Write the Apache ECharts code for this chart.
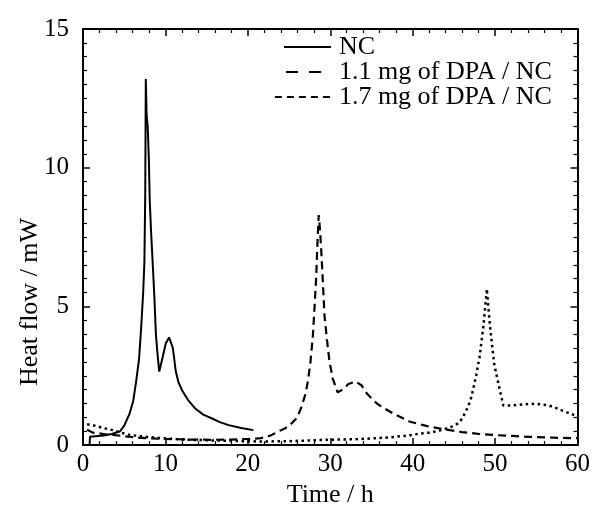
<!DOCTYPE html>
<html>
<head>
<meta charset="utf-8">
<script src="https://cdn.jsdelivr.net/npm/echarts@6/dist/echarts.min.js"></script>
<style>
html,body{margin:0;padding:0;background:#fff;}
#chart{width:593px;height:513px;}
</style>
</head>
<body>
<div id="chart"></div>
<script>
// ---- data ----
const seriesNames = ['NC', '1.1 mg of DPA / NC', '1.7 mg of DPA / NC'];
const xTitle = 'Time / h';
const yTitle = 'Heat flow / mW';

const ncTime = [0.8, 0.85, 1.5, 2.5, 3.5, 4.5, 5.0, 5.65, 6.1, 6.45, 6.8, 7.05, 7.3, 7.45, 7.55, 7.62, 7.72, 7.85, 8.0, 8.1, 8.25, 8.45, 8.65, 8.85, 9.05, 9.25, 9.65, 10.05, 10.45, 10.9, 11.05, 11.25, 11.6, 12.05, 12.8, 13.65, 14.6, 15.66, 16.6, 17.67, 19.2, 20.67];
const ncHeat = [0.02, 0.3, 0.32, 0.35, 0.4, 0.5, 0.7, 1.13, 1.6, 2.3, 3.1, 4.2, 5.5, 6.6, 9.0, 13.2, 11.9, 11.5, 10.2, 8.8, 7.75, 6.6, 5.4, 3.97, 3.26, 2.65, 3.15, 3.67, 3.88, 3.5, 3.15, 2.67, 2.25, 1.96, 1.6, 1.31, 1.1, 0.96, 0.83, 0.72, 0.62, 0.54];

const dpa11Time = [0.5, 1.2, 2.5, 3.6, 5.5, 7.6, 10, 13, 15.6, 18, 20, 21.6, 22.8, 23.7, 24.6, 25.3, 26, 26.5, 27.0, 27.3, 27.6, 27.9, 28.1, 28.3, 28.45, 28.6, 28.75, 28.9, 29.1, 29.3, 29.6, 29.9, 30.3, 30.9, 31.5, 32.2, 33.1, 33.8, 34.5, 35.7, 36.7, 37.7, 39.7, 41.3, 42.1, 44.5, 46, 48.1, 50, 52.1, 54, 56.1, 58, 59.3, 60];
const dpa11Heat = [0.55, 0.45, 0.4, 0.37, 0.3, 0.25, 0.22, 0.2, 0.19, 0.2, 0.22, 0.25, 0.35, 0.49, 0.62, 0.78, 1.0, 1.37, 1.85, 2.32, 3.0, 3.97, 5.0, 6.1, 7.3, 8.29, 7.8, 7.05, 5.9, 4.68, 3.8, 3.03, 2.4, 1.9, 2.0, 2.2, 2.29, 2.15, 1.84, 1.49, 1.3, 1.13, 0.84, 0.72, 0.66, 0.54, 0.47, 0.4, 0.36, 0.33, 0.3, 0.28, 0.26, 0.25, 0.25];

const dpa17Time = [0.5, 1.2, 2.4, 3.6, 4.6, 5.6, 7.6, 9.6, 12, 15.6, 18, 21.6, 25, 29.3, 33, 35.7, 37.3, 39.5, 41.3, 42.1, 43.2, 44.1, 44.5, 45.5, 46.0, 46.5, 47.0, 47.3, 47.7, 48.1, 48.6, 49.0, 49.3, 49.6, 49.9, 50.5, 51.0, 51.5, 52.1, 53.5, 54.9, 56.5, 57.3, 58.1, 59.0, 59.7, 60];
const dpa17Heat = [0.75, 0.72, 0.62, 0.54, 0.45, 0.37, 0.3, 0.25, 0.2, 0.17, 0.15, 0.13, 0.14, 0.19, 0.21, 0.25, 0.28, 0.35, 0.43, 0.45, 0.52, 0.6, 0.63, 0.78, 0.95, 1.25, 1.6, 1.96, 2.5, 3.14, 4.33, 5.63, 4.56, 3.7, 2.91, 2.08, 1.43, 1.43, 1.43, 1.47, 1.49, 1.43, 1.35, 1.25, 1.15, 1.07, 1.05];

const xMin = 0, xMax = 60, xStep = 10;
const yMin = 0, yMax = 15, yStep = 5;

// ---- build ----
const zip = (a, b) => a.map((v, i) => [v, b[i]]);
const FONT = '"Liberation Serif", "Times New Roman", serif';

function axisCommon(showLabel, isX) {
  return {
    type: 'value',
    min: isX ? xMin : yMin,
    max: isX ? xMax : yMax,
    interval: isX ? xStep : yStep,
    axisLine: { show: true, onZero: false, lineStyle: { color: '#000', width: 2 } },
    axisTick: { show: true, inside: true, length: 7, lineStyle: { color: '#000', width: 1.5 } },
    minorTick: { show: true, splitNumber: isX ? 5 : 10, length: 4, lineStyle: { color: '#000', width: 1.2 } },
    splitLine: { show: false },
    minorSplitLine: { show: false },
    axisLabel: { show: showLabel, color: '#000', fontFamily: FONT, fontSize: 25, margin: isX ? 7 : 14 }
  };
}

const chart = echarts.init(document.getElementById('chart'), null, { renderer: 'canvas' });

const legendText = { color: '#000', fontFamily: FONT, fontSize: 26, padding: [0, 0, 0, 3] };
const hideSym = { opacity: 0 };

const option = {
  animation: false,
  backgroundColor: '#fff',
  grid: { left: 83, right: 11, top: 29, bottom: 61, containLabel: false },
  xAxis: [
    Object.assign(axisCommon(true, true), {
      position: 'bottom', name: xTitle, nameLocation: 'middle', nameGap: 29,
      nameTextStyle: { color: '#000', fontFamily: FONT, fontSize: 26 }
    }),
    Object.assign(axisCommon(false, true), { position: 'top' })
  ],
  yAxis: [
    Object.assign(axisCommon(true, false), { position: 'left' }),
    Object.assign(axisCommon(false, false), { position: 'right' })
  ],
  legend: [
    { left: 283, top: 34, padding: 0, itemWidth: 47, itemHeight: 14, selectedMode: false,
      data: [{ name: seriesNames[0], itemStyle: hideSym, lineStyle: { type: 'solid', width: 2, color: '#000' } }],
      textStyle: legendText },
    { left: 283, top: 59, padding: 0, itemWidth: 47, itemHeight: 14, selectedMode: false,
      data: [{ name: seriesNames[1], itemStyle: hideSym, lineStyle: { type: [12, 11], dashOffset: 21, width: 2, color: '#000' } }],
      textStyle: legendText },
    { left: 271, top: 84, padding: 0, itemWidth: 59, itemHeight: 14, selectedMode: false,
      data: [{ name: seriesNames[2], itemStyle: hideSym, lineStyle: { type: [7, 5], width: 1.8, color: '#000' } }],
      textStyle: legendText }
  ],
  graphic: [
    { type: 'text', x: 30, y: 302, rotation: Math.PI / 2,
      style: { text: yTitle, fill: '#000', font: '26px ' + FONT, align: 'center', verticalAlign: 'middle' } }
  ],
  series: [
    { name: seriesNames[0], type: 'line', data: zip(ncTime, ncHeat), showSymbol: false, symbol: 'none',
      lineStyle: { color: '#000', width: 2, type: 'solid' }, itemStyle: { color: '#000' } },
    { name: seriesNames[1], type: 'line', data: zip(dpa11Time, dpa11Heat), showSymbol: false, symbol: 'none',
      lineStyle: { color: '#000', width: 2.2, type: [8, 5] }, itemStyle: { color: '#000' } },
    { name: seriesNames[2], type: 'line', data: zip(dpa17Time, dpa17Heat), showSymbol: false, symbol: 'none',
      lineStyle: { color: '#000', width: 2.5, type: [2.5, 3.5] }, itemStyle: { color: '#000' } }
  ]
};
chart.setOption(option);
</script>
</body>
</html>
